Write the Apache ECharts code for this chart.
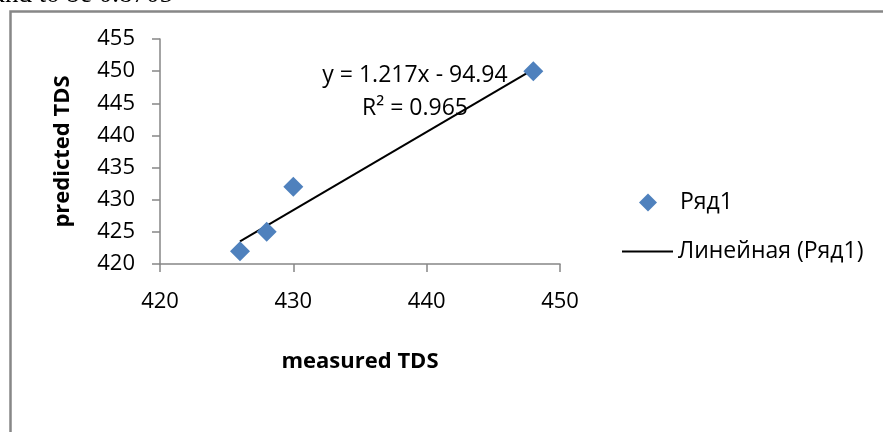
<!DOCTYPE html>
<html>
<head>
<meta charset="utf-8">
<script src="https://cdn.jsdelivr.net/npm/echarts@6/dist/echarts.min.js"></script>
<style>
  html, body { margin: 0; padding: 0; background: #fff; }
  #chart { width: 883px; height: 432px; }
</style>
</head>
<body>
<div id="chart"></div>
<script>
// ---- data ----
var measuredTDS = [426, 428, 430, 448];
var predictedTDS = [422, 425, 432, 450];
var trendSlope = 1.217;
var trendIntercept = -94.94;
var trendR2 = 0.965;
var seriesName = 'Ряд1';
var trendName = 'Линейная (Ряд1)';
var xAxisTitle = 'measured TDS';
var yAxisTitle = 'predicted TDS';
var topText = 'found to be 0.8705';

var FONT = '"Open Sans", "Liberation Sans", sans-serif';
var AXIS_COLOR = '#868686';

var points = measuredTDS.map(function (x, i) { return [x, predictedTDS[i]]; });
var xMin = Math.min.apply(null, measuredTDS);
var xMax = Math.max.apply(null, measuredTDS);
var trendPoints = [
  [xMin, trendSlope * xMin + trendIntercept],
  [xMax, trendSlope * xMax + trendIntercept]
];
var eqText = 'y = ' + trendSlope.toFixed(3) + 'x - ' + Math.abs(trendIntercept).toFixed(2);
var r2Text = 'R² = ' + trendR2.toFixed(3);

var chart = echarts.init(document.getElementById('chart'), null, { renderer: 'canvas' });
chart.setOption({
  backgroundColor: '#ffffff',
  animation: false,
  textStyle: { fontFamily: FONT },
  grid: { left: 160, top: 39, width: 400, height: 225, containLabel: false },
  xAxis: {
    type: 'value', min: 420, max: 450, interval: 10,
    name: xAxisTitle, nameLocation: 'middle', nameGap: 87,
    nameTextStyle: { fontFamily: FONT, fontSize: 22, fontWeight: 'bold', color: '#000' },
    axisLine: { show: true, onZero: false, lineStyle: { color: AXIS_COLOR, width: 1.5 } },
    axisTick: { show: true, inside: false, length: 8, lineStyle: { color: AXIS_COLOR, width: 1.5 } },
    axisLabel: { fontFamily: FONT, fontSize: 22, color: '#000', margin: 27 },
    splitLine: { show: false }
  },
  yAxis: {
    type: 'value', min: 420, max: 455, interval: 5,
    name: yAxisTitle, nameLocation: 'middle', nameGap: 86, nameRotate: 90,
    nameTextStyle: { fontFamily: FONT, fontSize: 22, fontWeight: 'bold', color: '#000' },
    axisLine: { show: true, onZero: false, lineStyle: { color: AXIS_COLOR, width: 1.5 } },
    axisTick: { show: true, inside: false, length: 8, lineStyle: { color: AXIS_COLOR, width: 1.5 } },
    axisLabel: { fontFamily: FONT, fontSize: 22, color: '#000', margin: 25 },
    splitLine: { show: false }
  },
  legend: [
    {
      data: [{ name: seriesName, icon: 'diamond' }],
      orient: 'vertical', left: 634, top: 186,
      itemWidth: 18, itemHeight: 18,
      textStyle: { fontFamily: FONT, fontSize: 23, color: '#000', padding: [0, 0, 0, 18] },
      selectedMode: false
    },
    {
      data: [{ name: trendName, icon: 'rect' }],
      orient: 'vertical', left: 617, top: 235,
      itemWidth: 51, itemHeight: 2,
      itemStyle: { color: '#000' },
      textStyle: { fontFamily: FONT, fontSize: 23, color: '#000' },
      selectedMode: false
    }
  ],
  series: [
    {
      name: trendName, type: 'line', data: trendPoints,
      symbol: 'none', silent: true,
      lineStyle: { color: '#000', width: 2 },
      itemStyle: { color: '#000' },
      z: 2
    },
    {
      name: seriesName, type: 'scatter', data: points,
      symbol: 'diamond', symbolSize: 20,
      itemStyle: { color: '#4F81BD', opacity: 1 },
      z: 3
    }
  ],
  graphic: [
    {
      type: 'rect', left: 8, top: 9, silent: true,
      shape: { x: 0, y: 0, width: 920, height: 500 },
      style: { fill: 'none', stroke: '#878787', lineWidth: 2.5 },
      z: 1
    },
    {
      type: 'text', left: -31, top: -19, silent: true,
      style: { text: topText, font: '27px "Liberation Serif", serif', fill: '#000' }
    },
    {
      type: 'text', x: 415, y: 75, silent: true,
      style: { text: eqText, font: '23px ' + FONT, fill: '#000', align: 'center', verticalAlign: 'middle' }
    },
    {
      type: 'text', x: 415, y: 108, silent: true,
      style: { text: r2Text, font: '23px ' + FONT, fill: '#000', align: 'center', verticalAlign: 'middle' }
    }
  ]
});
</script>
</body>
</html>
